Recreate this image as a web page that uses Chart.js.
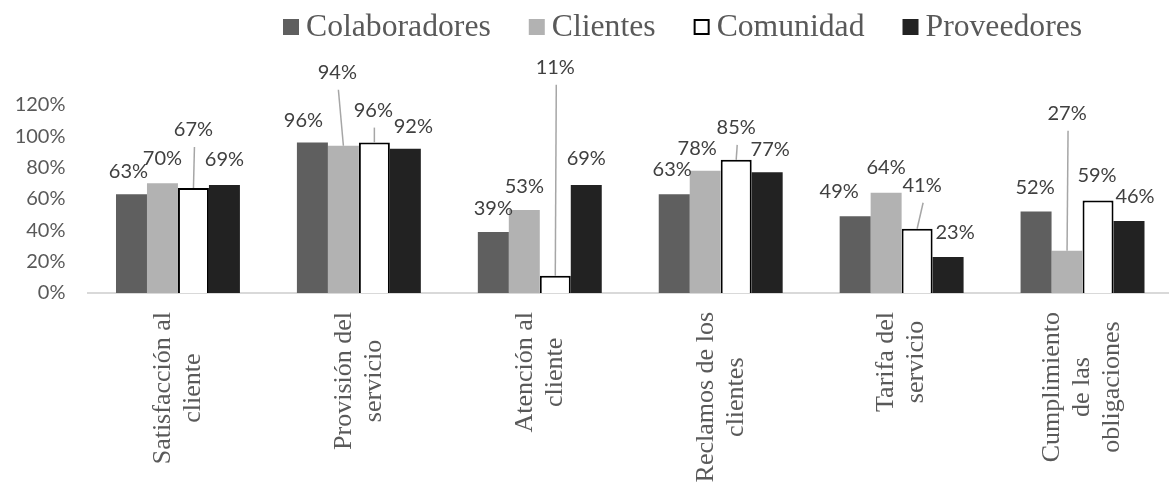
<!DOCTYPE html>
<html>
<head>
<meta charset="utf-8">
<script src="https://cdn.jsdelivr.net/npm/chart.js@4.4.1/dist/chart.umd.min.js"></script>
<style>
    html, body { margin: 0; padding: 0; background: #fff; overflow: hidden; }
    #wrap { position: relative; width: 1174px; height: 485px; }
</style>
</head>
<body>
<div id="wrap"><canvas id="surveyChart"></canvas></div>
<script>
// categories (multi-line, as in the original)
const categories = [
    ['Satisfacción al', 'cliente'],
    ['Provisión del', 'servicio'],
    ['Atención al', 'cliente'],
    ['Reclamos de los', 'clientes'],
    ['Tarifa del', 'servicio'],
    ['Cumplimiento', 'de las', 'obligaciones']
];

const seriesNames = ['Colaboradores', 'Clientes', 'Comunidad', 'Proveedores'];

const colaboradores = [0.63, 0.96, 0.39, 0.63, 0.49, 0.52];
const clientes      = [0.70, 0.94, 0.53, 0.78, 0.64, 0.27];
const comunidad     = [0.67, 0.96, 0.11, 0.85, 0.41, 0.59];
const proveedores   = [0.69, 0.92, 0.69, 0.77, 0.23, 0.46];

const yTicks = [0, 0.2, 0.4, 0.6, 0.8, 1.0, 1.2];

// where each value label sits, relative to the top of its bar [dx, dy]
const labelOffsets = [
    [[-3, -23], [-9, -22], [0, -23], [-2, -25], [-16, -25], [-1, -24]],
    [[0, -25], [-6, -73], [0, -23], [-8, -22], [0, -25], [0, -137]],
    [[0, -58], [-1, -32], [0, -208], [0, -32], [5, -43], [-1, -25]],
    [[0, -25], [8, -22], [0, -26], [3, -23], [7, -24], [6, -24]]
];

const fills   = ['rgb(95,95,95)', 'rgb(178,178,178)', '#ffffff', 'rgb(34,34,34)'];
const borders = ['rgb(95,95,95)', 'rgb(178,178,178)', '#000000', 'rgb(34,34,34)'];
const borderWidths = [0, 0, 2, 0];

const serifFont = '"Liberation Serif", "Times New Roman", serif';
const sansFont = 'Lato, "Open Sans", sans-serif';

const valueLabels = {
    id: 'valueLabels',
    afterDatasetsDraw(chart) {
        const ctx = chart.ctx;
        ctx.save();
        ctx.font = '20px ' + sansFont;
        ctx.textAlign = 'center';
        ctx.textBaseline = 'middle';
        chart.data.datasets.forEach((ds, di) => {
            const meta = chart.getDatasetMeta(di);
            meta.data.forEach((bar, i) => {
                const off = labelOffsets[di][i];
                const lx = bar.x + off[0];
                const ly = bar.y + off[1];
                if (off[1] < -30) {
                    ctx.strokeStyle = '#a6a6a6';
                    ctx.lineWidth = 1.5;
                    ctx.beginPath();
                    ctx.moveTo(lx + 1, ly + 17);
                    ctx.lineTo(bar.x, bar.y);
                    ctx.stroke();
                }
                ctx.fillStyle = '#404040';
                ctx.fillText(Math.round(ds.data[i] * 100) + '%', lx, ly);
            });
        });
        ctx.restore();
    }
};

const categoryLabels = {
    id: 'categoryLabels',
    afterDraw(chart) {
        const ctx = chart.ctx;
        const xScale = chart.scales.x;
        const top = xScale.top + 19;
        ctx.save();
        ctx.font = '26px ' + serifFont;
        ctx.fillStyle = '#595959';
        ctx.textAlign = 'center';
        ctx.textBaseline = 'middle';
        categories.forEach((lines, i) => {
            const cx = xScale.getPixelForValue(i);
            const longest = Math.max(...lines.map(l => ctx.measureText(l).width));
            const cy = top + longest / 2;
            lines.forEach((line, li) => {
                const x = cx + (li - (lines.length - 1) / 2) * 30;
                ctx.save();
                ctx.translate(x, cy);
                ctx.rotate(-Math.PI / 2);
                ctx.fillText(line, 0, 0);
                ctx.restore();
            });
        });
        ctx.restore();
    }
};

const topLegend = {
    id: 'topLegend',
    afterDraw(chart) {
        const ctx = chart.ctx;
        ctx.save();
        ctx.font = '31.7px ' + serifFont;
        ctx.textBaseline = 'alphabetic';
        let x = 283;
        chart.data.datasets.forEach((ds, di) => {
            ctx.fillStyle = fills[di];
            ctx.fillRect(x, 19, 16, 16);
            if (borderWidths[di]) {
                ctx.strokeStyle = borders[di];
                ctx.lineWidth = 2;
                ctx.strokeRect(x + 1, 20, 14, 14);
            }
            ctx.fillStyle = '#595959';
            ctx.fillText(ds.label, x + 23, 36);
            x += 23 + ctx.measureText(ds.label).width + 38;
        });
        ctx.restore();
    }
};

const ctx = document.getElementById('surveyChart').getContext('2d');
new Chart(ctx, {
    type: 'bar',
    data: {
        labels: categories.map(c => c.join(' ')),
        datasets: [colaboradores, clientes, comunidad, proveedores].map((vals, di) => ({
            label: seriesNames[di],
            data: vals,
            backgroundColor: fills[di],
            borderColor: borders[di],
            borderWidth: borderWidths[di],
            categoryPercentage: 0.685,
            barPercentage: 1.0
        }))
    },
    options: {
        responsive: true,
        maintainAspectRatio: false,
        animation: false,
        layout: { padding: { top: 105, right: 1, left: 0, bottom: 0 } },
        plugins: {
            legend: { display: false },
            tooltip: { enabled: false }
        },
        scales: {
            x: {
                grid: { display: false },
                border: { display: true, color: '#d9d9d9', width: 2 },
                ticks: { display: false },
                afterFit: function(axis) { axis.height = 192; }
            },
            y: {
                min: 0,
                max: 1.2,
                grid: { display: false, drawTicks: false },
                border: { display: false },
                afterBuildTicks: function(axis) {
                    axis.ticks = yTicks.map(v => ({ value: v }));
                },
                afterFit: function(axis) { axis.width = 87.5; },
                ticks: {
                    padding: 22,
                    color: '#595959',
                    font: { family: sansFont, size: 20 },
                    callback: function(v) { return Math.round(v * 100) + '%'; }
                }
            }
        }
    },
    plugins: [valueLabels, categoryLabels, topLegend]
});
</script>
</body>
</html>
